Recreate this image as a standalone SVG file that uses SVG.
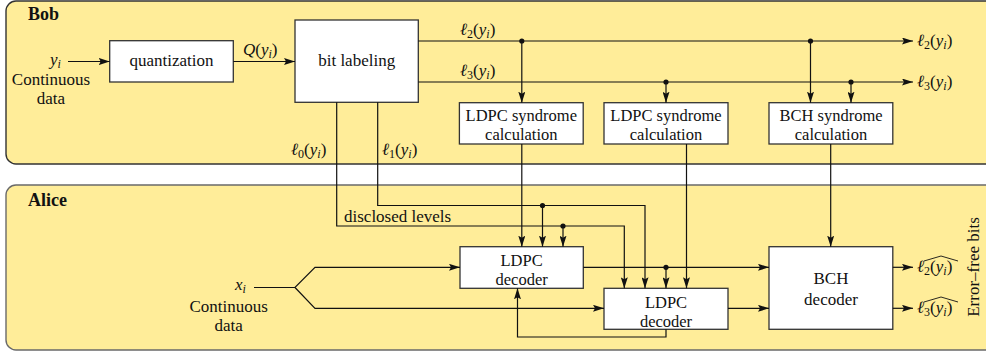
<svg xmlns="http://www.w3.org/2000/svg" width="986" height="354" viewBox="0 0 986 354">
<defs>
<style>
text{font-family:"Liberation Serif","DejaVu Serif",serif;font-size:17px;fill:#111}
.c{text-anchor:middle}
.t2{font-size:16.5px}
.b{font-weight:bold;font-size:18px}
.m{font-size:17px}
.it{font-style:italic}
.sub{font-size:12px}
.box{fill:#fff;stroke:#333;stroke-width:1.3}
.ln{fill:none;stroke:#111;stroke-width:1.2}
.ar{marker-end:url(#ah)}
.dot{fill:#111}
.hat{fill:none;stroke:#111;stroke-width:0.9}
</style>
<marker id="ah" viewBox="0 0 11 7" refX="11" refY="3.5" markerWidth="11" markerHeight="7" markerUnits="userSpaceOnUse" orient="auto">
<path d="M0,0 L11,3.5 L0,7 L2,3.5 z" fill="#111"/>
</marker>
</defs>
<rect width="986" height="354" fill="#fff"/>
<g id="panel-bob">
<rect x="6" y="1" width="1000" height="163" rx="10" fill="#FFED99" stroke="#333" stroke-width="1.4"/>
<text class="b" x="28" y="20">Bob</text>
</g>
<g id="panel-alice">
<rect x="6" y="185" width="1000" height="165" rx="10" fill="#FFED99" stroke="#6a6a6a" stroke-width="1.4"/>
<text class="b" x="28" y="206">Alice</text>
</g>
<g id="input-bob">
<text class="m it" x="50" y="65">y<tspan class="sub" dy="3">i</tspan></text>
<text class="c" x="51" y="85">Continuous</text>
<text class="c" x="51" y="104">data</text>
</g>
<g id="quantization">
<rect class="box" x="109.7" y="40.7" width="123.6" height="41.3"/>
<text class="c" x="171.5" y="66">quantization</text>
</g>
<g id="bit-labeling">
<rect class="box" x="295" y="20" width="123.3" height="82.3"/>
<text class="c" x="356.7" y="66">bit labeling</text>
</g>
<g id="ldpc-syndrome-1">
<rect class="box" x="459.4" y="102.7" width="123.8" height="41.3"/>
<text class="c t2" x="521.3" y="121">LDPC syndrome</text>
<text class="c t2" x="521.3" y="140">calculation</text>
</g>
<g id="ldpc-syndrome-2">
<rect class="box" x="604" y="102.7" width="124" height="41.3"/>
<text class="c t2" x="666" y="121">LDPC syndrome</text>
<text class="c t2" x="666" y="140">calculation</text>
</g>
<g id="bch-syndrome">
<rect class="box" x="769" y="102.7" width="123.8" height="41.3"/>
<text class="c t2" x="831" y="121">BCH syndrome</text>
<text class="c t2" x="831" y="140">calculation</text>
</g>
<g id="input-alice">
<text class="m it" x="235" y="290">x<tspan class="sub" dy="3">i</tspan></text>
<text class="c" x="228.7" y="312">Continuous</text>
<text class="c" x="228.7" y="331">data</text>
</g>
<g id="ldpc-decoder-1">
<rect class="box" x="460" y="246.7" width="123.3" height="41.6"/>
<text class="c t2" x="521.6" y="266">LDPC</text>
<text class="c t2" x="521.6" y="285">decoder</text>
</g>
<g id="ldpc-decoder-2">
<rect class="box" x="604" y="288.3" width="124" height="41"/>
<text class="c t2" x="666" y="307.5">LDPC</text>
<text class="c t2" x="666" y="326.5">decoder</text>
</g>
<g id="bch-decoder">
<rect class="box" x="769" y="246.7" width="123.8" height="82.6"/>
<text class="c" x="831" y="284">BCH</text>
<text class="c" x="831" y="305">decoder</text>
</g>
<g id="outputs">
<text class="m" x="917" y="46"><tspan class="it">ℓ</tspan><tspan class="sub" dy="3">2</tspan><tspan dy="-3">(</tspan><tspan class="it">y</tspan><tspan class="sub it" dy="3">i</tspan><tspan dy="-3">)</tspan></text>
<text class="m" x="917" y="87"><tspan class="it">ℓ</tspan><tspan class="sub" dy="3">3</tspan><tspan dy="-3">(</tspan><tspan class="it">y</tspan><tspan class="sub it" dy="3">i</tspan><tspan dy="-3">)</tspan></text>
<text class="m" x="917" y="272"><tspan class="it">ℓ</tspan><tspan class="sub" dy="3">2</tspan><tspan dy="-3">(</tspan><tspan class="it">y</tspan><tspan class="sub it" dy="3">i</tspan><tspan dy="-3">)</tspan></text>
<path class="hat" d="M924,261 L941,256 L958,261"/>
<text class="m" x="917" y="313"><tspan class="it">ℓ</tspan><tspan class="sub" dy="3">3</tspan><tspan dy="-3">(</tspan><tspan class="it">y</tspan><tspan class="sub it" dy="3">i</tspan><tspan dy="-3">)</tspan></text>
<path class="hat" d="M924,302 L941,297 L958,302"/>
<text class="c" transform="translate(979,267) rotate(-90)">Error–free bits</text>
</g>
<g id="connectors">
<path class="ln ar" d="M68,61.5 H109.7"/>
<path class="ln ar" d="M233.3,61.5 H295"/>
<path class="ln ar" d="M418.3,41 H913"/>
<path class="ln ar" d="M418.3,82 H913"/>
<path class="ln ar" d="M521.8,41 V102.7"/>
<path class="ln ar" d="M666,82 V102.7"/>
<path class="ln ar" d="M810.5,41 V102.7"/>
<path class="ln ar" d="M851,82 V102.7"/>
<path class="ln ar" d="M336.7,102.3 V226 H624.3 V288.3"/>
<path class="ln ar" d="M377.7,102.3 V205.5 H645 V288.3"/>
<path class="ln ar" d="M542.5,205.5 V246.7"/>
<path class="ln ar" d="M563,226 V246.7"/>
<path class="ln ar" d="M521.8,144 V246.7"/>
<path class="ln ar" d="M686.5,144 V288.3"/>
<path class="ln ar" d="M830.7,144 V246.7"/>
<path class="ln ar" d="M254,287.5 H295 L315,267.3 H460"/>
<path class="ln ar" d="M295,287.5 L315,308.3 H604"/>
<path class="ln ar" d="M583.3,267.3 H769"/>
<path class="ln ar" d="M666,267.3 V288.3"/>
<path class="ln ar" d="M728,308.3 H769"/>
<path class="ln ar" d="M666,329.3 V337 H517.5 V288.3"/>
<path class="ln ar" d="M892.8,267.3 H913"/>
<path class="ln ar" d="M892.8,308.3 H913"/>
<circle class="dot" cx="521.8" cy="41" r="2.6"/>
<circle class="dot" cx="810.5" cy="41" r="2.6"/>
<circle class="dot" cx="666" cy="82" r="2.6"/>
<circle class="dot" cx="851" cy="82" r="2.6"/>
<circle class="dot" cx="542.5" cy="205.5" r="2.6"/>
<circle class="dot" cx="563" cy="226" r="2.6"/>
<circle class="dot" cx="666" cy="267.3" r="2.6"/>
<text class="m" x="243" y="55"><tspan class="it">Q</tspan>(<tspan class="it">y</tspan><tspan class="sub it" dy="3">i</tspan><tspan dy="-3">)</tspan></text>
<text class="m" x="460" y="35"><tspan class="it">ℓ</tspan><tspan class="sub" dy="3">2</tspan><tspan dy="-3">(</tspan><tspan class="it">y</tspan><tspan class="sub it" dy="3">i</tspan><tspan dy="-3">)</tspan></text>
<text class="m" x="460" y="76"><tspan class="it">ℓ</tspan><tspan class="sub" dy="3">3</tspan><tspan dy="-3">(</tspan><tspan class="it">y</tspan><tspan class="sub it" dy="3">i</tspan><tspan dy="-3">)</tspan></text>
<text class="m" x="291" y="155"><tspan class="it">ℓ</tspan><tspan class="sub" dy="3">0</tspan><tspan dy="-3">(</tspan><tspan class="it">y</tspan><tspan class="sub it" dy="3">i</tspan><tspan dy="-3">)</tspan></text>
<text class="m" x="382" y="155"><tspan class="it">ℓ</tspan><tspan class="sub" dy="3">1</tspan><tspan dy="-3">(</tspan><tspan class="it">y</tspan><tspan class="sub it" dy="3">i</tspan><tspan dy="-3">)</tspan></text>
<text x="344" y="222">disclosed levels</text>
</g>
</svg>
